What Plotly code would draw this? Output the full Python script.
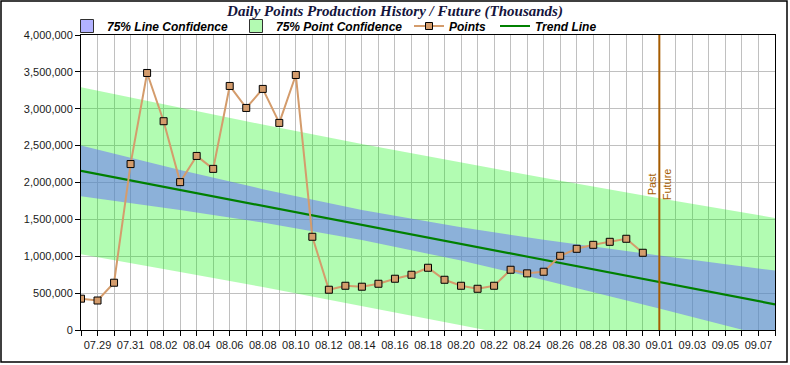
import plotly.graph_objects as go
import pandas as pd

YEAR = "2014"

# ---- data ----
point_dates = ["07.28", "07.29", "07.30", "07.31", "08.01", "08.02", "08.03", "08.04", "08.05",
               "08.06", "08.07", "08.08", "08.09", "08.10", "08.11", "08.12", "08.13", "08.14",
               "08.15", "08.16", "08.17", "08.18", "08.19", "08.20", "08.21", "08.22", "08.23",
               "08.24", "08.25", "08.26", "08.27", "08.28", "08.29", "08.30", "08.31"]
point_values = [425000, 400000, 641000, 2250000, 3485000, 2831000, 2005000, 2360000, 2185000,
                3309000, 3011000, 3269000, 2808000, 3458000, 1264000, 546000, 600000, 587000,
                627000, 695000, 749000, 844000, 681000, 600000, 559000, 600000, 817000,
                768000, 790000, 1006000, 1101000, 1155000, 1196000, 1237000, 1047000]

band_dates = ["07.28", "08.03", "08.08", "08.14", "08.20", "08.25", "09.01", "09.08"]
line_conf_upper = [2503000, 2171000, 1910000, 1628000, 1393000, 1223000, 1009000, 806000]
line_conf_lower = [1813000, 1627000, 1458000, 1222000, 941000, 679000, 291000, -110000]
point_conf_upper = [3290000, 3011000, 2785000, 2522000, 2268000, 2063000, 1786000, 1519000]
point_conf_lower = [1026000, 787000, 583000, 328000, 66000, -161000, -486000, -823000]

trend_dates = ["07.28", "09.08"]
trend_values = [2158000, 348000]

divider_date = "09.01"
x_range = ["07.28", "09.08"]
first_tick = "07.29"


def to_dt(lbl):
    m, d = lbl.split(".")
    return pd.Timestamp(f"{YEAR}-{m}-{d}")


px_ = [to_dt(s) for s in point_dates]
bx = [to_dt(s) for s in band_dates]
tx = [to_dt(s) for s in trend_dates]

FONT = "Liberation Sans, Arial, sans-serif"
BLUE_FILL = "rgba(102,102,255,0.5)"
GREEN_FILL = "rgba(0,245,0,0.3)"
PT_COLOR = "#d49c6c"
DIV_COLOR = "#a65c00"

fig = go.Figure()

# point confidence band
fig.add_trace(go.Scatter(x=bx + bx[::-1], y=point_conf_upper + point_conf_lower[::-1],
                         fill="toself", fillcolor=GREEN_FILL, mode="lines",
                         line=dict(width=0), showlegend=False, hoverinfo="skip"))
# line confidence band
fig.add_trace(go.Scatter(x=bx + bx[::-1], y=line_conf_upper + line_conf_lower[::-1],
                         fill="toself", fillcolor=BLUE_FILL, mode="lines",
                         line=dict(width=0), showlegend=False, hoverinfo="skip"))
# trend line
fig.add_trace(go.Scatter(x=tx, y=trend_values, mode="lines",
                         line=dict(color="#008000", width=2.2),
                         name="Trend Line", legend="legend4"))
# points
fig.add_trace(go.Scatter(x=px_, y=point_values, mode="lines+markers",
                         line=dict(color=PT_COLOR, width=2),
                         marker=dict(symbol="square", size=7, color=PT_COLOR,
                                     line=dict(color="#000000", width=1)),
                         name="Points", legend="legend3"))
# legend-only boxes for bands
fig.add_trace(go.Scatter(x=[None], y=[None], mode="markers", name="75% Line Confidence",
                         marker=dict(symbol="square", size=13, color="#b2b2ff",
                                     line=dict(color="#303030", width=1)),
                         legend="legend"))
fig.add_trace(go.Scatter(x=[None], y=[None], mode="markers", name="75% Point Confidence",
                         marker=dict(symbol="square", size=13, color="#b3fab2",
                                     line=dict(color="#303030", width=1)),
                         legend="legend2"))

L, R, T, B = 81, 15, 35, 35
W, H = 790, 365
pw, ph = W - L - R, H - T - B


def xp(px):
    return (px - L) / pw


def yp(py):
    return (H - B - py) / ph


leg_font = dict(family=FONT, size=12, color="#000000", weight="bold", style="italic")
leg_y = yp(26)


def leg(xpx):
    return dict(x=xp(xpx), y=leg_y, xanchor="left", yanchor="middle", orientation="h",
                font=leg_font, bgcolor="rgba(0,0,0,0)", borderwidth=0)


day_ms = 86400000
fig.update_layout(
    width=W, height=H,
    margin=dict(l=L, r=R, t=T, b=B),
    paper_bgcolor="white", plot_bgcolor="white",
    title=dict(text="Daily Points Production History / Future (Thousands)",
               x=0.5, xref="container", y=1 - 11 / H, yref="container",
               xanchor="center", yanchor="middle",
               font=dict(family="Liberation Serif, Times New Roman, serif", size=15,
                         color="#14143c", weight="bold", style="italic")),
    legend=leg(67), legend2=leg(236), legend3=leg(409), legend4=leg(495),
    showlegend=True,
    xaxis=dict(type="date", range=[to_dt(x_range[0]), to_dt(x_range[1])],
               tick0=to_dt(first_tick), dtick=2 * day_ms, tickformat="%m.%d",
               ticks="outside", ticklen=5, tickcolor="#000000",
               showgrid=True, gridcolor="#c0c0c0", gridwidth=1,
               minor=dict(dtick=day_ms, ticks="outside", ticklen=5, tickcolor="#000000",
                          showgrid=True, gridcolor="#c0c0c0", gridwidth=1),
               showline=True, linecolor="#000000", linewidth=1, mirror=True,
               tickfont=dict(family=FONT, size=11, color="#1a1a1a"),
               zeroline=False, fixedrange=True),
    yaxis=dict(range=[0, 4000000], dtick=500000, tickformat=",",
               ticks="outside", ticklen=5, tickcolor="#000000",
               showgrid=True, gridcolor="#c0c0c0", gridwidth=1,
               showline=True, linecolor="#000000", linewidth=1, mirror=True,
               tickfont=dict(family=FONT, size=11, color="#1a1a1a"),
               zeroline=False, fixedrange=True),
    shapes=[
        dict(type="line", xref="x", yref="paper", x0=to_dt(divider_date), x1=to_dt(divider_date),
             y0=0, y1=1, line=dict(color=DIV_COLOR, width=2)),
        dict(type="rect", xref="paper", yref="paper", x0=xp(1), x1=xp(787), y0=yp(1), y1=yp(362),
             line=dict(color="#000000", width=1.5), fillcolor="rgba(0,0,0,0)", layer="below"),
    ],
    annotations=[
        dict(x=to_dt(divider_date), y=yp(184), xref="x", yref="paper", text="Past",
             textangle=-90, showarrow=False, xshift=-7,
             font=dict(family=FONT, size=11, color=DIV_COLOR)),
        dict(x=to_dt(divider_date), y=yp(184), xref="x", yref="paper", text="Future",
             textangle=-90, showarrow=False, xshift=8,
             font=dict(family=FONT, size=11, color=DIV_COLOR)),
    ],
)

fig.write_html("out.html", config={"displayModeBar": False},
               post_script="document.body.style.margin='0';document.body.style.overflow='hidden';")
